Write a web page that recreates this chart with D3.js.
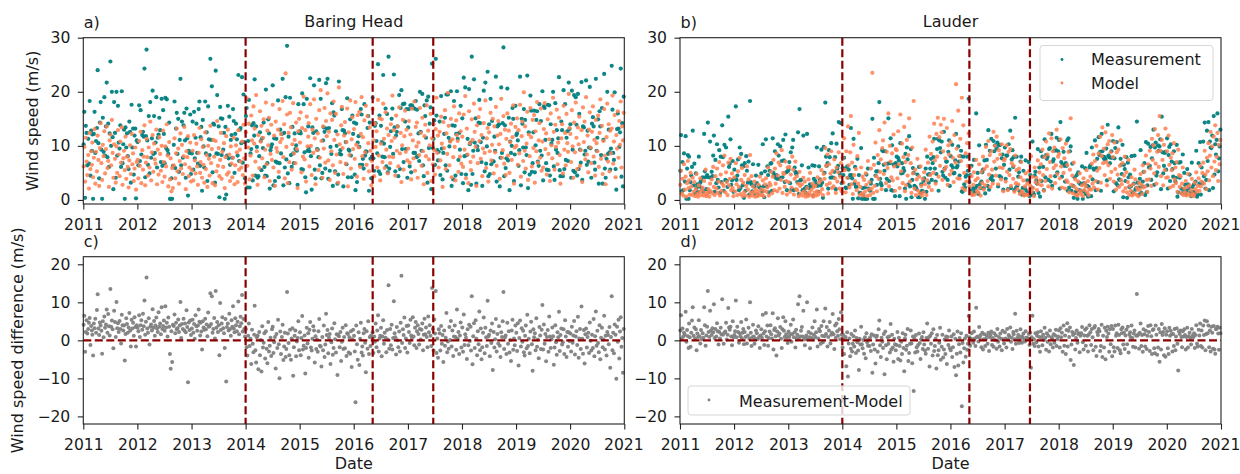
<!DOCTYPE html>
<html>
<head>
<meta charset="utf-8">
<script src="https://cdn.jsdelivr.net/npm/d3@7"></script>
<style>
  body { margin: 0; background: #fff; }
  svg text { font-family: "DejaVu Sans", sans-serif; fill: #1a1a1a; }
</style>
</head>
<body>
<svg id="chart" width="1240" height="474"></svg>
<script>
// Wind speed samples, six per month (days 3, 8, 13, 18, 23, 28), one row per year 2011-2020.
const years = [2011, 2012, 2013, 2014, 2015, 2016, 2017, 2018, 2019, 2020];
const sampleDays = [3, 8, 13, 18, 23, 28];

const baringMeasurement = [
  10.3,16.3,0.4,13.7,12.4,6.4, 11.3,6.7,18.3,4.5,12.8,9.1, 12.1,0.2,12.2,16.3,8.7,10.9, 13.3,24.0,10.5,4.0,14.3,18.1, 9.3,0.2,15.2,8.9,19.0,8.2, 13.6,21.7,7.9,14.1,6.1,12.3, 25.6,10.0,20.0,11.6,2.0,18.1, 12.4,4.1,20.0,8.2,17.4,10.6, 9.5,13.8,6.1,20.1,6.8,10.3, 13.0,0.2,13.4,9.7,12.3,8.1, 5.7,14.5,12.6,3.2,17.6,9.7, 13.2,4.7,11.9,13.2,0.3,11.0,
  10.7,6.4,17.5,7.2,16.6,8.4, 12.0,12.6,11.7,24.3,4.2,11.8, 27.8,11.0,6.5,15.5,4.9,18.1, 7.8,11.4,20.2,8.5,15.5,8.7, 10.6,19.0,6.0,11.5,12.1,15.2, 12.9,7.0,18.7,6.3,16.6,12.2, 6.8,18.9,9.6,18.6,9.2,8.5, 14.3,0.2,0.2,4.0,0.2,6.3, 10.2,18.2,5.9,13.2,16.1,8.5, 15.0,5.2,11.1,22.4,6.4,14.5, 7.8,13.8,16.1,11.0,4.1,16.9, 11.4,0.8,9.1,8.7,15.8,4.8,
  8.6,14.5,5.6,16.3,7.7,11.5, 14.1,8.7,6.7,16.8,18.2,6.3, 11.6,13.5,1.7,14.8,9.9,6.0, 18.2,8.6,12.5,3.5,17.3,11.2, 8.3,26.1,11.1,21.0,5.1,14.1, 13.9,3.2,23.9,8.6,19.4,8.5, 13.6,0.5,17.2,15.1,8.3,15.0, 9.3,12.4,0.2,13.5,1.0,8.2, 17.4,7.7,15.4,6.5,11.1,12.0, 7.8,16.8,14.6,5.0,12.2,14.1, 11.2,8.2,23.1,7.2,13.0,13.3, 10.5,22.7,6.9,19.5,10.7,4.0,
  15.5,17.0,2.3,10.9,18.5,2.3, 8.6,9.4,13.8,3.6,14.2,11.9, 22.3,4.5,13.6,9.8,4.1,4.4, 8.1,12.5,10.9,5.5,11.4,9.6, 14.3,6.1,4.5,20.4,4.4,6.8, 14.9,12.3,2.1,9.2,9.8,10.3, 21.2,2.7,11.4,3.5,7.1,11.3, 6.9,18.4,4.2,6.8,13.0,8.6, 12.2,22.4,2.7,12.4,6.0,19.0, 7.5,28.5,4.9,11.7,3.1,18.9, 8.3,6.1,13.5,8.6,6.8,12.3, 9.4,10.1,9.1,2.8,17.7,12.4,
  12.7,12.3,5.7,19.7,5.6,17.7, 8.8,4.2,1.4,18.7,9.1,13.6, 9.6,9.0,22.5,8.1,1.9,13.4, 12.4,21.2,5.6,4.0,12.7,9.4, 9.3,7.9,22.2,6.4,18.7,4.0, 5.0,11.0,13.4,12.6,5.8,21.6, 13.2,22.4,3.9,13.3,5.4,9.8, 8.5,17.9,2.6,16.2,15.6,5.3, 12.7,10.0,3.0,4.7,21.9,8.5, 9.2,8.4,16.8,12.9,2.5,12.8, 12.3,10.7,6.6,18.8,4.2,9.3, 9.1,14.9,8.2,4.2,15.6,12.2,
  14.3,4.7,1.8,14.1,3.3,10.6, 11.8,9.8,6.5,16.8,15.8,6.5, 7.6,5.8,17.7,8.2,9.0,8.9, 13.3,15.5,1.7,14.3,7.6,4.0, 8.0,18.9,7.7,5.4,13.7,14.2, 10.9,8.6,25.1,5.3,15.6,4.8, 13.7,10.7,8.0,23.1,10.4,7.9, 16.9,6.2,15.9,5.1,26.5,5.8, 9.8,12.7,15.0,16.9,8.5,23.2, 13.4,5.3,11.9,12.6,13.6,4.4, 19.4,5.7,17.0,20.3,9.4,17.7, 7.0,17.8,14.5,9.4,16.8,4.1,
  13.4,16.8,6.2,17.5,5.1,17.5, 17.1,8.7,16.9,8.7,18.3,7.9, 16.7,8.1,12.3,7.2,20.0,12.6, 9.1,19.6,6.4,4.4,17.5,15.5, 11.5,18.4,3.2,19.1,9.6,14.1, 17.1,2.0,25.2,9.6,11.3,14.7, 6.5,26.1,15.6,9.2,7.3,8.9, 14.5,4.6,19.2,9.5,3.8,8.7, 12.2,15.2,6.4,19.5,5.4,19.5, 11.5,9.9,10.9,20.1,2.6,13.8, 3.8,18.3,13.7,4.5,12.2,20.1, 11.3,7.4,12.4,9.3,17.4,4.8,
  15.1,3.1,22.6,8.1,20.8,4.7, 8.3,11.3,1.8,20.5,10.3,10.6, 2.8,26.5,4.8,9.1,22.3,10.6, 15.1,3.0,9.9,9.2,14.3,18.5, 14.2,10.7,7.0,2.6,11.5,20.2, 5.3,21.7,6.7,9.9,23.7,4.4, 14.0,4.8,18.7,6.6,14.6,7.2, 7.1,11.7,9.1,22.8,3.4,13.6, 13.8,14.0,2.5,7.8,20.8,8.7, 14.2,28.2,4.4,13.8,5.9,7.7, 20.6,7.3,15.2,1.8,10.8,8.7, 10.0,17.0,15.0,3.5,8.4,17.4,
  12.0,12.3,11.0,6.3,9.2,22.8, 2.7,15.0,14.1,9.7,16.8,5.1, 14.8,9.7,8.3,23.0,2.2,12.5, 4.7,19.3,16.5,5.2,6.8,12.5, 16.5,5.1,10.1,14.8,16.4,7.1, 6.3,17.7,9.1,14.6,8.2,20.1, 3.6,17.3,17.0,11.1,6.8,5.6, 17.6,5.5,17.5,4.5,14.0,10.4, 11.1,20.0,6.2,3.7,17.9,9.3, 12.9,8.7,11.4,22.7,5.5,4.4, 14.5,12.9,4.4,20.3,5.7,17.7, 7.4,11.5,12.7,7.2,21.7,13.1,
  14.0,4.1,20.2,9.3,5.4,19.4, 5.1,19.0,13.9,4.5,19.6,5.7, 15.9,9.3,6.9,21.8,3.7,13.6, 13.4,8.4,9.1,22.1,6.5,12.8, 7.1,9.7,20.9,9.6,4.1,14.1, 15.3,13.6,6.9,5.6,22.4,9.1, 11.5,14.9,3.0,16.4,13.6,8.3, 17.0,3.0,11.1,23.3,5.8,4.1, 7.6,20.0,8.5,13.0,8.8,5.6, 9.5,24.8,16.7,8.7,7.4,19.9, 5.7,1.9,13.1,16.0,13.2,9.8, 12.5,24.3,4.3,14.2,2.5,19.1
];

const baringModel = [
  6.2,9.8,3.4,11.5,7.1,4.6, 8.3,2.1,12.4,5.7,9.0,6.5, 10.6,4.2,7.8,13.1,3.0,8.9, 5.3,11.9,7.4,2.6,9.6,14.2, 6.8,3.7,10.2,8.1,12.7,4.9, 9.4,13.6,5.9,7.2,2.4,11.0, 12.1,6.4,14.8,8.7,4.1,10.3, 7.6,3.2,9.9,5.0,12.9,8.4, 4.4,10.8,6.9,13.4,2.8,7.7, 9.1,5.5,11.7,3.9,8.0,6.1, 2.3,7.3,10.1,4.8,12.2,6.6, 8.6,3.5,5.8,9.7,1.9,7.0,
  7.4,4.0,10.9,6.3,12.6,3.1, 9.2,5.6,8.0,13.8,2.7,6.9, 11.3,7.9,4.5,9.7,6.0,14.5, 3.6,8.8,12.0,5.2,10.4,7.5, 6.7,13.0,2.9,9.3,4.7,11.6, 8.5,5.4,10.0,3.3,12.8,7.0, 4.3,9.9,6.2,14.0,8.2,2.5, 10.7,3.8,7.7,1.6,5.9,2.2, 6.4,11.4,4.0,8.6,13.2,5.3, 9.5,3.0,7.2,12.3,5.8,10.2, 4.8,8.1,13.5,6.6,2.0,9.0, 7.9,11.8,4.4,6.0,10.6,3.4,
  5.5,9.1,3.6,12.0,7.3,4.9, 10.4,6.2,2.8,8.7,13.3,5.0, 7.0,11.2,4.1,9.8,6.5,3.2, 12.5,5.7,8.3,2.4,10.0,7.6, 4.5,13.7,6.8,9.4,3.1,11.1, 8.0,2.7,10.9,5.3,14.6,6.3, 9.6,4.4,7.4,12.4,3.9,8.9, 6.1,10.5,2.2,7.9,11.8,4.7, 13.0,5.1,8.4,3.5,9.9,6.7, 4.2,7.8,11.5,2.9,6.4,10.1, 8.8,3.3,12.9,5.6,9.3,7.1, 6.0,10.8,4.6,13.9,7.7,3.0,
  12.5,18.8,6.3,9.7,14.1,3.8, 8.2,15.6,11.0,4.5,17.3,10.4, 13.2,7.1,19.4,9.0,2.8,12.0, 5.9,16.4,10.8,13.7,7.7,11.5, 14.9,4.2,9.3,18.0,6.6,12.8, 10.1,15.2,3.5,8.5,13.9,7.4, 17.6,6.0,11.9,2.6,14.5,9.6, 8.9,13.0,5.2,16.8,10.7,12.2, 11.3,18.3,7.9,14.0,4.0,23.4, 9.8,15.8,3.1,12.4,7.0,16.1, 13.4,5.6,10.3,17.9,8.6,11.1, 6.8,14.3,9.4,2.2,12.7,15.0,
  10.6,16.2,5.1,13.3,8.0,19.1, 7.5,12.9,3.4,15.4,9.9,11.7, 14.2,6.2,17.7,10.0,4.6,13.0, 8.7,18.6,11.4,2.9,15.0,9.2, 12.3,5.5,16.6,7.8,20.3,10.9, 4.1,13.6,9.5,17.0,6.9,14.6, 11.8,19.7,7.3,12.6,3.7,16.0, 9.0,14.8,6.4,18.2,11.1,5.0, 15.9,8.4,12.1,3.2,20.8,10.3, 7.0,13.8,17.2,9.6,4.8,11.9, 14.4,6.7,10.7,16.9,2.5,12.5, 8.3,18.4,5.8,11.2,15.3,9.4,
  13.1,7.6,18.1,10.2,4.3,15.7, 9.7,16.3,6.1,12.2,19.0,8.1, 11.6,3.9,14.7,8.8,17.4,6.5, 15.5,10.5,5.3,13.4,9.1,2.7, 7.2,16.8,11.0,4.4,14.1,9.8, 12.7,6.0,18.5,8.2,15.1,3.6, 10.4,14.9,7.0,17.8,11.3,5.9, 16.2,9.3,13.2,4.9,12.0,8.0, 6.8,14.0,10.9,19.3,7.9,12.9, 11.5,4.5,15.6,9.1,13.6,6.2, 17.1,8.6,12.4,3.3,10.1,14.8, 5.6,11.8,16.5,8.9,13.0,7.3,
  9.5,14.6,6.9,12.1,3.8,16.9, 11.0,7.7,18.2,5.4,13.5,9.9, 14.3,4.1,10.6,8.3,17.0,12.4, 6.3,15.2,9.0,2.9,11.8,13.9, 8.1,17.5,5.0,12.8,7.5,10.1, 15.9,3.5,11.4,6.6,14.0,9.2, 4.7,13.1,18.9,8.7,11.9,6.0, 12.6,7.3,15.4,10.4,2.4,14.4, 9.6,16.6,5.7,12.3,8.5,19.8, 13.7,6.4,10.8,15.0,4.2,11.2, 7.9,17.3,9.8,3.6,14.7,12.0, 10.9,5.2,16.0,8.0,12.7,6.7,
  11.7,6.1,15.8,9.3,19.2,4.0, 13.2,8.4,3.1,16.4,10.5,7.0, 5.5,14.9,11.1,8.0,17.8,12.6, 9.8,2.6,13.8,6.8,15.3,10.9, 16.8,7.6,12.0,4.4,9.5,14.2, 8.7,18.4,5.9,11.4,13.3,3.4, 12.5,9.0,16.1,7.3,10.2,15.0, 4.9,13.6,8.8,17.2,6.3,11.9, 14.6,10.3,3.9,12.2,18.7,7.8, 9.2,15.5,6.7,13.0,4.6,11.3, 16.0,8.2,12.8,5.0,10.7,14.1, 7.4,11.6,17.5,3.0,9.7,13.5,
  10.0,15.1,6.5,12.9,8.6,17.6, 4.3,11.8,14.5,7.2,19.9,9.1, 13.6,5.8,10.4,16.3,3.7,12.1, 8.1,17.0,11.6,6.2,14.8,9.6, 15.7,3.2,12.7,9.0,18.1,6.9, 11.0,14.2,7.8,16.9,5.4,10.8, 6.0,13.1,17.9,9.4,12.3,4.7, 14.9,8.5,11.2,3.5,16.0,10.1, 7.7,18.9,12.6,5.6,13.9,9.8, 16.7,6.6,10.6,15.2,8.3,3.0, 11.4,14.0,4.9,17.4,9.3,12.4, 6.4,15.9,10.5,8.9,19.6,13.3,
  12.2,7.0,16.6,9.9,4.1,14.3, 8.8,18.0,11.5,5.7,13.4,10.3, 15.4,6.3,9.2,12.9,3.3,17.1, 10.7,14.5,7.5,19.0,8.4,11.9, 5.1,13.0,16.2,9.7,6.8,12.6, 17.3,8.0,11.1,4.5,14.8,10.5, 9.0,15.6,6.1,12.4,18.6,7.6, 13.7,4.8,10.9,16.8,8.2,2.9, 11.6,17.8,7.1,14.0,5.3,12.8, 8.6,13.2,19.3,6.7,10.8,15.7, 4.2,12.0,9.5,16.4,7.8,14.6, 10.2,18.2,6.0,13.6,11.0,16.1
];

const lauderMeasurement = [
  5.4,12.0,1.6,7.0,1.8,8.6, 3.4,11.8,0.2,5.8,8.3,0.2, 8.0,1.8,3.3,4.5,6.1,12.8, 2.7,6.7,1.2,4.9,2.2,2.9, 1.5,8.0,2.5,3.2,3.6,2.1, 4.2,1.5,12.2,5.3,4.2,2.0, 4.6,14.3,4.2,1.5,10.8,4.1, 5.2,4.4,8.2,11.9,1.5,7.4, 3.1,10.3,3.7,2.3,9.2,1.3, 8.0,3.3,13.8,7.9,1.7,10.2, 3.7,9.7,3.5,2.4,15.4,6.1, 6.7,11.2,2.8,3.6,7.2,1.5,
  5.6,4.0,17.3,3.7,4.5,7.5, 1.8,9.7,2.2,8.5,6.4,2.7, 6.2,0.4,6.8,1.7,8.1,5.4, 3.2,7.1,1.0,18.3,3.3,2.9, 1.6,6.6,2.5,2.5,1.0,4.5, 3.1,1.0,6.5,2.5,2.3,2.2, 4.9,1.6,10.3,2.5,0.5,5.3, 11.2,2.5,6.2,4.6,1.4,5.4, 6.7,6.8,1.7,11.4,5.0,4.5, 9.0,4.1,4.6,3.9,10.3,8.2, 3.9,9.9,4.1,7.2,4.2,11.1, 7.3,3.3,12.1,5.1,1.8,5.3,
  5.6,7.0,3.1,8.8,1.9,9.7, 11.1,1.8,6.0,5.2,4.8,5.0, 3.3,12.5,1.1,16.8,3.6,3.7, 6.4,1.8,11.9,1.8,2.1,1.3, 2.4,12.2,1.0,6.0,2.2,2.9, 2.7,2.5,6.4,0.8,3.9,6.3, 3.5,2.9,9.7,2.6,1.5,6.2, 3.8,2.7,9.3,3.2,0.4,9.8, 5.0,18.0,8.0,6.3,6.8,2.1, 9.2,7.9,4.1,10.5,4.2,12.3, 4.1,5.2,7.9,2.0,10.4,5.8, 6.3,14.4,5.0,4.6,14.2,3.1,
  5.9,4.6,7.8,5.8,2.3,2.2, 6.2,4.1,5.6,2.8,4.6,13.3, 4.6,4.0,0.2,11.3,3.0,6.1, 2.4,2.4,7.6,0.3,4.6,1.3, 1.3,9.6,0.2,2.2,0.9,0.2, 2.3,0.2,4.7,0.2,5.8,2.1, 1.8,1.7,3.0,3.7,15.0,0.2, 7.8,0.2,4.5,5.3,2.8,5.3, 6.8,18.1,3.9,3.1,2.7,9.2, 9.0,6.5,5.4,9.0,1.8,3.9, 6.7,15.1,3.5,6.8,11.4,1.8, 10.1,1.7,6.5,6.6,0.7,6.8,
  8.0,6.2,7.8,7.3,0.7,10.5, 4.9,6.8,5.0,5.9,5.4,2.1, 8.5,0.2,9.7,7.5,2.9,11.8, 2.5,9.4,0.5,3.7,5.9,5.0, 2.6,2.4,2.3,2.0,4.7,0.5, 6.1,0.5,1.3,2.9,1.7,1.6, 3.5,4.0,0.2,5.8,1.5,8.0, 4.7,3.2,4.8,5.8,7.6,3.7, 6.8,7.9,11.3,5.8,3.4,4.8, 9.4,11.3,1.7,11.0,9.6,8.8, 10.8,5.2,4.5,12.6,5.8,4.1, 7.1,7.1,3.7,8.9,11.0,2.6,
  8.1,6.4,10.2,6.0,4.9,5.0, 7.3,12.2,6.0,6.3,9.9,7.1, 4.5,8.1,9.1,1.6,1.5,8.0, 2.9,2.3,4.3,4.6,8.0,5.4, 18.7,3.3,4.6,1.7,6.3,1.1, 2.2,7.4,1.5,2.1,16.0,2.6, 5.0,1.1,10.1,2.9,2.2,3.4, 5.1,5.6,2.2,7.3,1.2,10.2, 7.4,2.6,12.9,1.9,9.1,3.9, 11.3,4.4,3.6,10.9,9.0,10.1, 5.8,9.5,10.6,2.5,10.1,4.4, 10.2,4.2,7.7,8.4,1.9,6.5,
  9.7,3.9,8.2,8.2,2.0,10.3, 5.6,12.8,2.2,7.5,9.2,6.1, 7.9,1.8,15.2,2.2,8.0,2.6, 4.3,5.1,1.6,7.1,8.0,1.0, 2.2,5.4,1.0,2.2,7.3,1.7, 3.6,1.3,7.0,0.7,4.6,0.9, 2.3,10.8,1.3,1.0,4.5,5.2, 3.6,3.0,9.4,1.3,6.0,0.6, 9.0,3.5,8.0,6.1,1.8,11.2, 4.2,8.3,7.6,8.0,3.7,9.4, 9.6,3.4,12.2,2.6,7.1,7.5, 9.1,4.4,9.2,11.5,5.1,9.0,
  11.1,2.1,14.4,7.0,4.3,6.6, 8.9,6.3,3.4,6.8,6.3,11.0, 1.7,11.4,2.3,9.0,9.9,1.7, 6.7,2.6,0.4,4.2,1.4,1.5, 4.6,0.2,5.1,3.2,1.8,2.9, 3.0,6.2,0.2,1.6,3.1,5.9, 1.1,8.7,2.6,0.6,2.4,6.0, 6.4,0.7,9.7,3.8,5.8,5.6, 11.0,1.8,5.9,7.6,3.3,11.6, 8.3,8.9,1.7,12.2,9.0,8.0, 7.6,7.9,7.5,9.5,3.6,13.9, 8.2,7.9,6.8,7.8,9.0,7.8,
  10.9,1.6,7.7,9.6,3.1,10.7, 2.7,13.4,3.8,3.7,7.6,6.5, 4.8,10.2,0.5,6.5,5.7,3.5, 7.9,0.4,6.9,4.2,2.4,4.7, 2.5,8.1,1.4,1.2,3.0,8.2, 1.9,2.2,14.5,3.2,2.3,1.0, 3.9,9.2,1.3,2.5,3.4,5.2, 6.8,0.9,10.7,1.4,2.7,10.4, 6.0,6.3,9.8,3.7,7.7,10.1, 13.0,2.8,9.7,10.6,4.5,5.1, 10.1,9.1,9.9,11.2,2.0,15.4, 8.8,4.9,6.3,8.7,8.9,5.6,
  11.4,2.1,8.3,9.8,3.5,10.3, 7.1,5.7,4.3,9.0,6.8,3.4, 4.1,10.2,0.6,1.4,6.9,4.1, 7.0,2.1,1.2,8.4,1.9,5.0, 2.8,1.1,1.7,5.7,2.9,2.2, 4.7,1.4,0.7,6.9,2.4,1.5, 2.9,1.2,3.4,9.1,0.6,1.0, 6.8,3.0,10.7,1.0,6.0,3.1, 10.8,4.4,14.3,2.1,3.7,12.8, 7.2,14.4,1.8,10.8,9.7,9.6, 11.9,2.2,15.5,4.7,10.3,8.4, 11.1,16.0,5.3,7.7,9.9,13.0
];

const lauderModel = [
  2.8,5.4,1.2,3.9,0.8,6.6, 1.9,4.3,0.6,3.1,7.2,2.2, 3.6,1.0,5.0,2.5,0.9,4.1, 1.5,3.3,0.7,2.0,4.8,1.1, 0.6,2.7,1.4,4.0,0.9,1.8, 2.3,0.8,3.5,1.3,5.6,0.7, 1.0,1.3,2.0,0.6,3.0,1.6, 3.8,1.2,6.1,2.4,0.9,4.4, 2.1,5.8,1.3,3.4,7.0,0.8, 4.7,1.7,3.0,6.4,2.6,8.2, 1.4,5.1,3.3,0.9,6.9,2.7, 3.9,7.6,1.8,4.9,2.2,0.7,
  4.2,1.6,6.8,2.9,0.9,5.3, 2.4,7.8,1.1,3.7,5.9,0.7, 3.2,1.4,4.6,0.8,2.6,6.2, 1.9,3.8,0.6,8.3,1.3,4.4, 0.8,2.5,1.5,3.4,0.6,1.9, 1.2,0.7,2.8,1.6,4.3,0.9, 2.0,1.0,3.6,0.7,1.7,2.9, 4.0,1.5,2.3,6.0,0.8,3.1, 2.7,5.2,1.2,4.3,7.4,1.8, 5.8,3.0,8.6,1.6,4.5,6.9, 2.1,6.4,3.7,9.2,1.3,5.0, 4.8,2.4,7.1,3.5,1.0,6.0,
  3.3,6.1,1.5,4.7,2.3,8.0, 5.6,1.0,3.9,7.1,2.0,4.4, 1.8,3.0,0.7,5.2,2.6,1.2, 2.9,0.8,4.1,1.6,3.4,0.6, 1.1,2.2,0.7,3.8,1.4,5.0, 0.9,1.9,3.0,0.6,2.4,1.3, 2.6,0.8,1.6,4.2,1.0,3.2, 1.4,3.6,5.5,2.0,0.9,4.8, 3.9,9.6,6.3,2.8,8.4,1.2, 6.6,3.1,4.9,9.0,2.2,5.4, 2.5,7.5,4.0,1.3,6.0,3.4, 5.1,8.8,2.1,4.3,6.8,1.6,
  7.8,3.2,11.4,5.5,1.4,9.0, 4.1,13.6,6.4,2.3,8.8,15.5, 2.9,6.9,1.1,10.2,4.6,3.5, 5.7,1.8,8.1,3.0,12.4,0.9, 2.4,6.0,1.2,4.3,0.8,3.7, 1.5,4.9,2.8,0.7,7.2,1.9, 3.3,0.9,5.8,2.1,23.5,1.3, 6.5,2.6,10.6,4.4,1.6,8.3, 3.9,12.9,5.2,7.5,2.0,9.6, 11.0,4.8,14.3,6.7,3.1,8.9, 5.9,16.0,2.5,10.0,7.1,4.2, 8.6,3.6,12.1,6.2,1.7,9.4,
  9.2,4.0,12.7,6.6,2.2,15.8, 5.3,10.4,3.1,7.9,13.5,1.6, 7.0,2.7,11.1,4.5,8.3,15.1, 3.4,6.8,1.3,9.7,4.9,18.3, 2.1,5.6,0.9,3.8,7.6,1.7, 4.3,1.2,6.2,2.6,0.8,3.9, 1.4,5.1,2.9,9.3,0.9,3.6, 6.9,2.4,11.7,4.6,8.5,1.8, 10.8,5.0,14.1,7.3,3.0,12.2, 8.0,15.2,4.3,11.6,6.3,13.9, 12.5,3.7,9.0,15.0,5.6,7.7, 6.1,13.3,2.8,10.1,8.4,4.7,
  10.7,5.4,14.6,7.8,3.3,12.0, 6.9,21.4,9.5,4.0,16.5,8.1, 3.9,11.3,7.2,18.9,2.2,13.8, 5.0,1.8,8.6,3.4,10.5,6.3, 12.3,2.5,6.0,1.3,4.4,0.9, 2.8,5.1,1.0,3.6,7.4,1.7, 4.0,1.4,6.6,2.3,0.8,5.2, 3.1,8.0,1.9,5.7,2.7,9.8, 6.2,3.5,10.9,4.7,8.3,2.4, 9.0,5.6,3.0,12.6,7.1,10.0, 4.5,11.7,7.6,2.9,9.2,6.0, 8.4,3.8,10.3,5.9,1.6,7.3,
  7.6,3.4,10.1,5.2,1.8,8.9, 4.6,9.4,2.6,6.8,11.5,3.9, 6.3,1.5,8.2,3.1,5.5,2.0, 2.9,5.8,1.1,4.2,7.0,1.6, 1.3,3.6,0.8,2.5,4.9,1.0, 3.0,0.9,5.3,1.9,2.6,8.1, 1.5,4.3,2.2,0.7,6.0,3.3, 4.1,1.8,7.3,2.9,5.1,3.6, 6.6,2.7,9.3,4.6,1.7,7.9, 3.5,10.8,5.7,8.4,2.5,12.3, 7.0,4.4,11.4,2.1,9.0,5.9, 9.7,3.1,6.4,13.0,4.8,8.0,
  8.5,4.0,11.2,6.2,2.3,9.6, 5.0,7.7,2.1,10.4,3.6,6.5, 3.3,8.9,1.4,5.6,15.1,2.8, 4.5,1.2,6.9,2.4,3.8,0.9, 2.0,0.8,3.4,1.3,4.9,1.7, 1.1,2.7,0.7,4.0,1.8,3.1, 2.5,5.5,1.4,3.5,0.9,2.0, 4.3,1.9,6.7,3.0,8.4,2.3, 7.2,3.5,10.0,5.4,1.9,8.6, 5.9,11.7,3.2,8.1,13.4,6.8, 9.5,4.6,12.5,7.0,2.7,10.3, 6.4,10.9,3.9,8.8,5.2,12.0,
  7.9,3.4,10.6,5.7,1.9,8.8, 4.7,9.3,2.4,6.3,11.0,3.6, 2.9,6.8,1.6,4.5,8.0,2.2, 5.1,1.4,3.3,7.4,0.9,2.6, 1.7,4.2,0.8,2.9,1.2,5.6, 3.8,1.0,2.3,1.9,0.7,3.2, 1.9,4.8,2.8,1.1,6.4,2.3, 5.2,2.5,8.2,3.7,1.5,6.6, 3.8,9.1,5.8,2.6,11.3,7.4, 10.1,4.9,13.1,6.7,3.0,8.9, 12.0,6.1,15.5,9.1,4.4,11.1, 7.4,2.7,10.2,5.5,13.2,4.1,
  9.0,4.2,11.9,6.5,2.3,7.8, 5.5,8.6,2.6,10.5,3.8,6.0, 3.1,7.0,1.5,9.3,4.6,2.4, 4.4,1.2,3.0,6.0,0.9,2.1, 1.4,3.5,0.8,2.4,4.8,1.1, 2.7,0.8,1.8,3.9,1.2,0.7, 1.0,3.2,2.0,5.1,1.5,2.6, 4.0,1.7,6.3,2.5,3.4,5.0, 6.9,3.0,9.1,4.7,2.0,7.8, 5.3,10.5,3.6,8.2,12.6,6.0, 9.9,4.4,11.7,7.1,13.8,5.5, 8.0,12.4,3.5,10.2,6.6,11.1
];

// Axis ticks and reference markers
const yearTicks = [2011, 2012, 2013, 2014, 2015, 2016, 2017, 2018, 2019, 2020, 2021];
const speedTicks = [0, 10, 20, 30];
const diffTicks = [-20, -10, 0, 10, 20];
const changeDates = ["2014-01-01", "2016-05-08", "2017-06-21"];
const siteNames = ["Baring Head", "Lauder"];
const panelLetters = ["a)", "b)", "c)", "d)"];

const colors = { measurement: "#008080", model: "#ff7f50", diff: "#808080", marker: "#8b0000" };
const FONT = 16;
const TICK_FONT = 15.6;

// ---------- helpers ----------
function sampleDate(i) {
  const y = years[Math.floor(i / 72)];
  const m = Math.floor((i % 72) / sampleDays.length);
  return new Date(y, m, sampleDays[i % sampleDays.length]);
}
function toSeries(values) {
  return values.map((v, i) => ({ date: sampleDate(i), value: v }));
}
function diffSeries(meas, model) {
  return meas.map((v, i) => ({ date: sampleDate(i), value: +(v - model[i]).toFixed(1) }));
}

const svg = d3.select("#chart");

const cols = [83.3, 680];
const plotW = 541;
const rows = [
  { top: 37.7, h: 166.3, domain: [-0.75, 30], ticks: speedTicks },
  { top: 256.7, h: 167.3, domain: [-22, 22], ticks: diffTicks }
];

const sites = [
  { meas: baringMeasurement, model: baringModel },
  { meas: lauderMeasurement, model: lauderModel }
];

function drawPanel(col, row, idx) {
  const left = cols[col], R = rows[row];
  const g = svg.append("g").attr("transform", `translate(${left},${R.top})`);

  const x = d3.scaleTime()
    .domain([new Date(2011, 0, 1), new Date(2021, 0, 1)])
    .range([0, plotW]);
  const y = d3.scaleLinear().domain(R.domain).range([R.h, 0]);

  const site = sites[col];
  const dot = (sel, data, color, r, op) =>
    sel.append("g").selectAll("circle").data(data).join("circle")
      .attr("cx", d => x(d.date)).attr("cy", d => y(d.value))
      .attr("r", r).attr("fill", color).attr("fill-opacity", op);

  if (row === 0) {
    dot(g, toSeries(site.meas), colors.measurement, 2.1, 0.95);
    dot(g, toSeries(site.model), colors.model, 2.1, 0.85);
  } else {
    dot(g, diffSeries(site.meas, site.model), colors.diff, 2.0, 0.95);
    g.append("line")
      .attr("x1", 0).attr("x2", plotW).attr("y1", y(0)).attr("y2", y(0))
      .attr("stroke", colors.marker).attr("stroke-width", 2.2)
      .attr("stroke-dasharray", "8,3.5");
  }

  // instrument/model change markers
  g.append("g").selectAll("line").data(changeDates).join("line")
    .attr("x1", d => x(new Date(d))).attr("x2", d => x(new Date(d)))
    .attr("y1", 0).attr("y2", R.h)
    .attr("stroke", colors.marker).attr("stroke-width", 2.2)
    .attr("stroke-dasharray", "8,3.5");

  // axes
  const xAxis = d3.axisBottom(x)
    .tickValues(yearTicks.map(yr => new Date(yr, 0, 1)))
    .tickFormat(d3.timeFormat("%Y"))
    .tickSize(5.5).tickPadding(9);
  const ax = g.append("g").attr("transform", `translate(0,${R.h})`).call(xAxis);

  const yAxis = d3.axisLeft(y).tickValues(R.ticks).tickFormat(d3.format("d"))
    .tickSize(5.5).tickPadding(7.5);
  const ay = g.append("g").call(yAxis);

  [ax, ay].forEach(a => {
    a.select(".domain").remove();
    a.selectAll(".tick line").attr("stroke", "#222").attr("stroke-width", 1.1);
    a.selectAll(".tick text").style("font-size", TICK_FONT + "px")
      .style("font-family", "'DejaVu Sans', sans-serif").attr("fill", "#1a1a1a");
  });
  // keep the final year label inside the canvas edge
  ax.selectAll(".tick text").filter(d => d.getFullYear() === 2021).attr("x", -1);
  ay.selectAll(".tick text").text(d => d < 0 ? "\u2212" + Math.abs(d) : d);

  // frame
  g.append("rect").attr("x", 0).attr("y", 0).attr("width", plotW).attr("height", R.h)
    .attr("fill", "none").attr("stroke", "#222").attr("stroke-width", 1.1);

  // panel letter
  g.append("text").attr("x", 0.5).attr("y", -10).style("font-size", FONT + "px")
    .text(panelLetters[idx]);

  if (row === 0) {
    g.append("text").attr("x", plotW / 2).attr("y", -11).attr("text-anchor", "middle")
      .style("font-size", FONT + "px").text(siteNames[col]);
  } else {
    g.append("text").attr("x", plotW / 2).attr("y", R.h + 45.5).attr("text-anchor", "middle")
      .style("font-size", FONT + "px").text("Date");
  }
  return g;
}

const gA = drawPanel(0, 0, 0);
const gB = drawPanel(1, 0, 1);
const gC = drawPanel(0, 1, 2);
const gD = drawPanel(1, 1, 3);

// y-axis titles
svg.append("text")
  .attr("transform", `translate(38,${rows[0].top + rows[0].h / 2}) rotate(-90)`)
  .attr("text-anchor", "middle").style("font-size", FONT + "px").text("Wind speed (m/s)");
svg.append("text")
  .attr("transform", `translate(23,${rows[1].top + rows[1].h / 2}) rotate(-90)`)
  .attr("text-anchor", "middle").style("font-size", FONT + "px").text("Wind speed difference (m/s)");

// legends
function legend(g, x0, y0, w, h, items) {
  const lg = g.append("g").attr("transform", `translate(${x0},${y0})`);
  lg.append("rect").attr("width", w).attr("height", h).attr("rx", 3)
    .attr("fill", "#fff").attr("fill-opacity", 0.8)
    .attr("stroke", "#d6d6d6").attr("stroke-width", 1);
  items.forEach(it => {
    lg.append("circle").attr("cx", it.mx).attr("cy", it.my).attr("r", 1.4).attr("fill", it.color);
    lg.append("text").attr("x", it.tx).attr("y", it.ty).style("font-size", FONT + "px").text(it.label);
  });
}
legend(gB, 1040 - cols[1], 45.5 - rows[0].top, 173, 55, [
  { label: "Measurement", color: colors.measurement, mx: 22, my: 14, tx: 51, ty: 19.5 },
  { label: "Model", color: colors.model, mx: 22, my: 37.5, tx: 51, ty: 43 }
]);
legend(gD, 688 - cols[1], 386 - rows[1].top, 222, 29, [
  { label: "Measurement-Model", color: colors.diff, mx: 21, my: 14, tx: 51, ty: 20.5 }
]);
</script>
</body>
</html>
